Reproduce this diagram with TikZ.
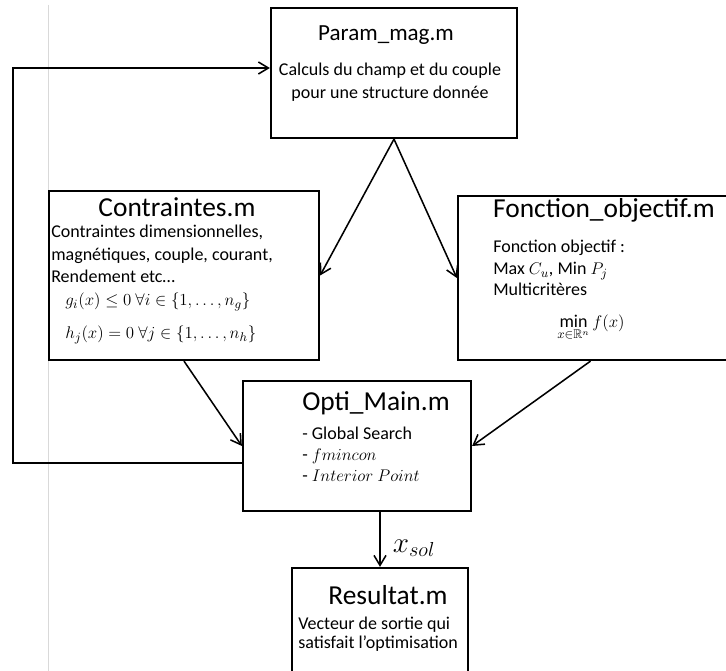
\documentclass[tikz,border=0pt]{standalone}
\usepackage{amsmath}
\usepackage{amssymb}
\usepackage{fontspec}
\setmainfont{Carlito}
\usepackage{tikz}
\usetikzlibrary{arrows.meta, positioning}

\begin{document}
\begin{tikzpicture}[
  box/.style={draw, line width=1.6pt, inner sep=0pt},
  ttl/.style={font=\fontsize{19.5}{23}\selectfont},
  txt/.style={font=\fontsize{12.8}{16}\selectfont, align=left,
              anchor=north west, inner sep=0pt},
  eq/.style={font=\fontsize{12.8}{16}\selectfont, anchor=west, inner sep=0pt},
  link/.style={line width=1.1pt, -{Straight Barb[length=2.5mm, width=3mm]}}
]
  \useasboundingbox (0,0) rectangle (18.15,16.775);
  \draw[gray!30, line width=0.6pt] (1.2,16.65) -- (1.2,0);

  % boxes
  \node[box, minimum width=6.15cm,  minimum height=3.25cm]  (par) at (9.85, 14.95) {};
  \node[box, minimum width=6.75cm,  minimum height=4.225cm] (con) at (4.6, 9.8875) {};
  \node[box, minimum width=6.925cm, minimum height=4.1cm]   (obj) at (14.9125, 9.825) {};
  \node[box, minimum width=5.7cm,   minimum height=3.25cm]  (opt) at (8.925, 5.625) {};
  \node[box, minimum width=4.4cm,   minimum height=2.8cm]   (res) at (9.5, 1.175) {};

  % texts
  \node[font=\fontsize{16.4}{20}\selectfont] (parT) at (9.65, 15.9) {Param\_mag.m};
  \node[font=\fontsize{12.8}{16.4}\selectfont, align=center] (parB) at (9.75, 14.73)
    {Calculs du champ et du couple\\pour une structure donnée};

  \node[ttl] (conT) at (4.425, 11.6) {Contraintes.m};
  \node[txt] (conB) at (1.275, 11.15)
    {Contraintes dimensionnelles,\\magnétiques, couple, courant,\\Rendement etc…};
  \node[eq] (conG) at (1.625, 9.225) {$g_i(x) \leq 0\ \forall i \in \{1,\ldots,n_g\}$};
  \node[eq] (conH) at (1.625, 8.4) {$h_j(x) = 0\ \forall j \in \{1,\ldots,n_h\}$};

  \node[ttl] (objT) at (15.1, 11.525) {Fonction\_objectif.m};
  \node[txt, font=\fontsize{12.8}{15.3}\selectfont] (objB) at (12.325, 10.77)
    {Fonction objectif :\\Max $C_u$, Min $P_j$\\Multicritères};
  \node[font=\fontsize{12.8}{16}\selectfont] (objM) at (14.775, 8.575)
    {$\displaystyle\min_{x\in\mathbb{R}^n} f(x)$};

  \node[ttl] (optT) at (9.4, 6.7) {Opti\_Main.m};
  \node[txt, font=\fontsize{12.8}{15}\selectfont] (optB) at (7.55, 6.115)
    {- Global Search\\- $fmincon$\\- $Interior\ Point$};

  \node[ttl] (resT) at (9.7, 1.9) {Resultat.m};
  \node[txt, font=\fontsize{12.8}{13.5}\selectfont] (resB) at (7.45, 1.365)
    {Vecteur de sortie qui\\satisfait l’optimisation};

  \node[font=\fontsize{20}{22}\selectfont] (sol) at (10.35, 3.075) {$x_{sol}$};

  % connectors
  \draw[link] (par.south) -- (con.east);
  \draw[link] (par.south) -- (obj.west);
  \draw[link] (con.south) -- (opt.west);
  \draw[link] ([xshift=-0.15cm]obj.south) -- (opt.east);
  \draw[link] (res.north |- opt.south) -- (res.north);

  \coordinate (back) at (0.325, 15.075);
  \draw[link] ([yshift=-0.425cm]opt.west) -| (back) -- ([yshift=0.125cm]par.west);
\end{tikzpicture}
\end{document}
